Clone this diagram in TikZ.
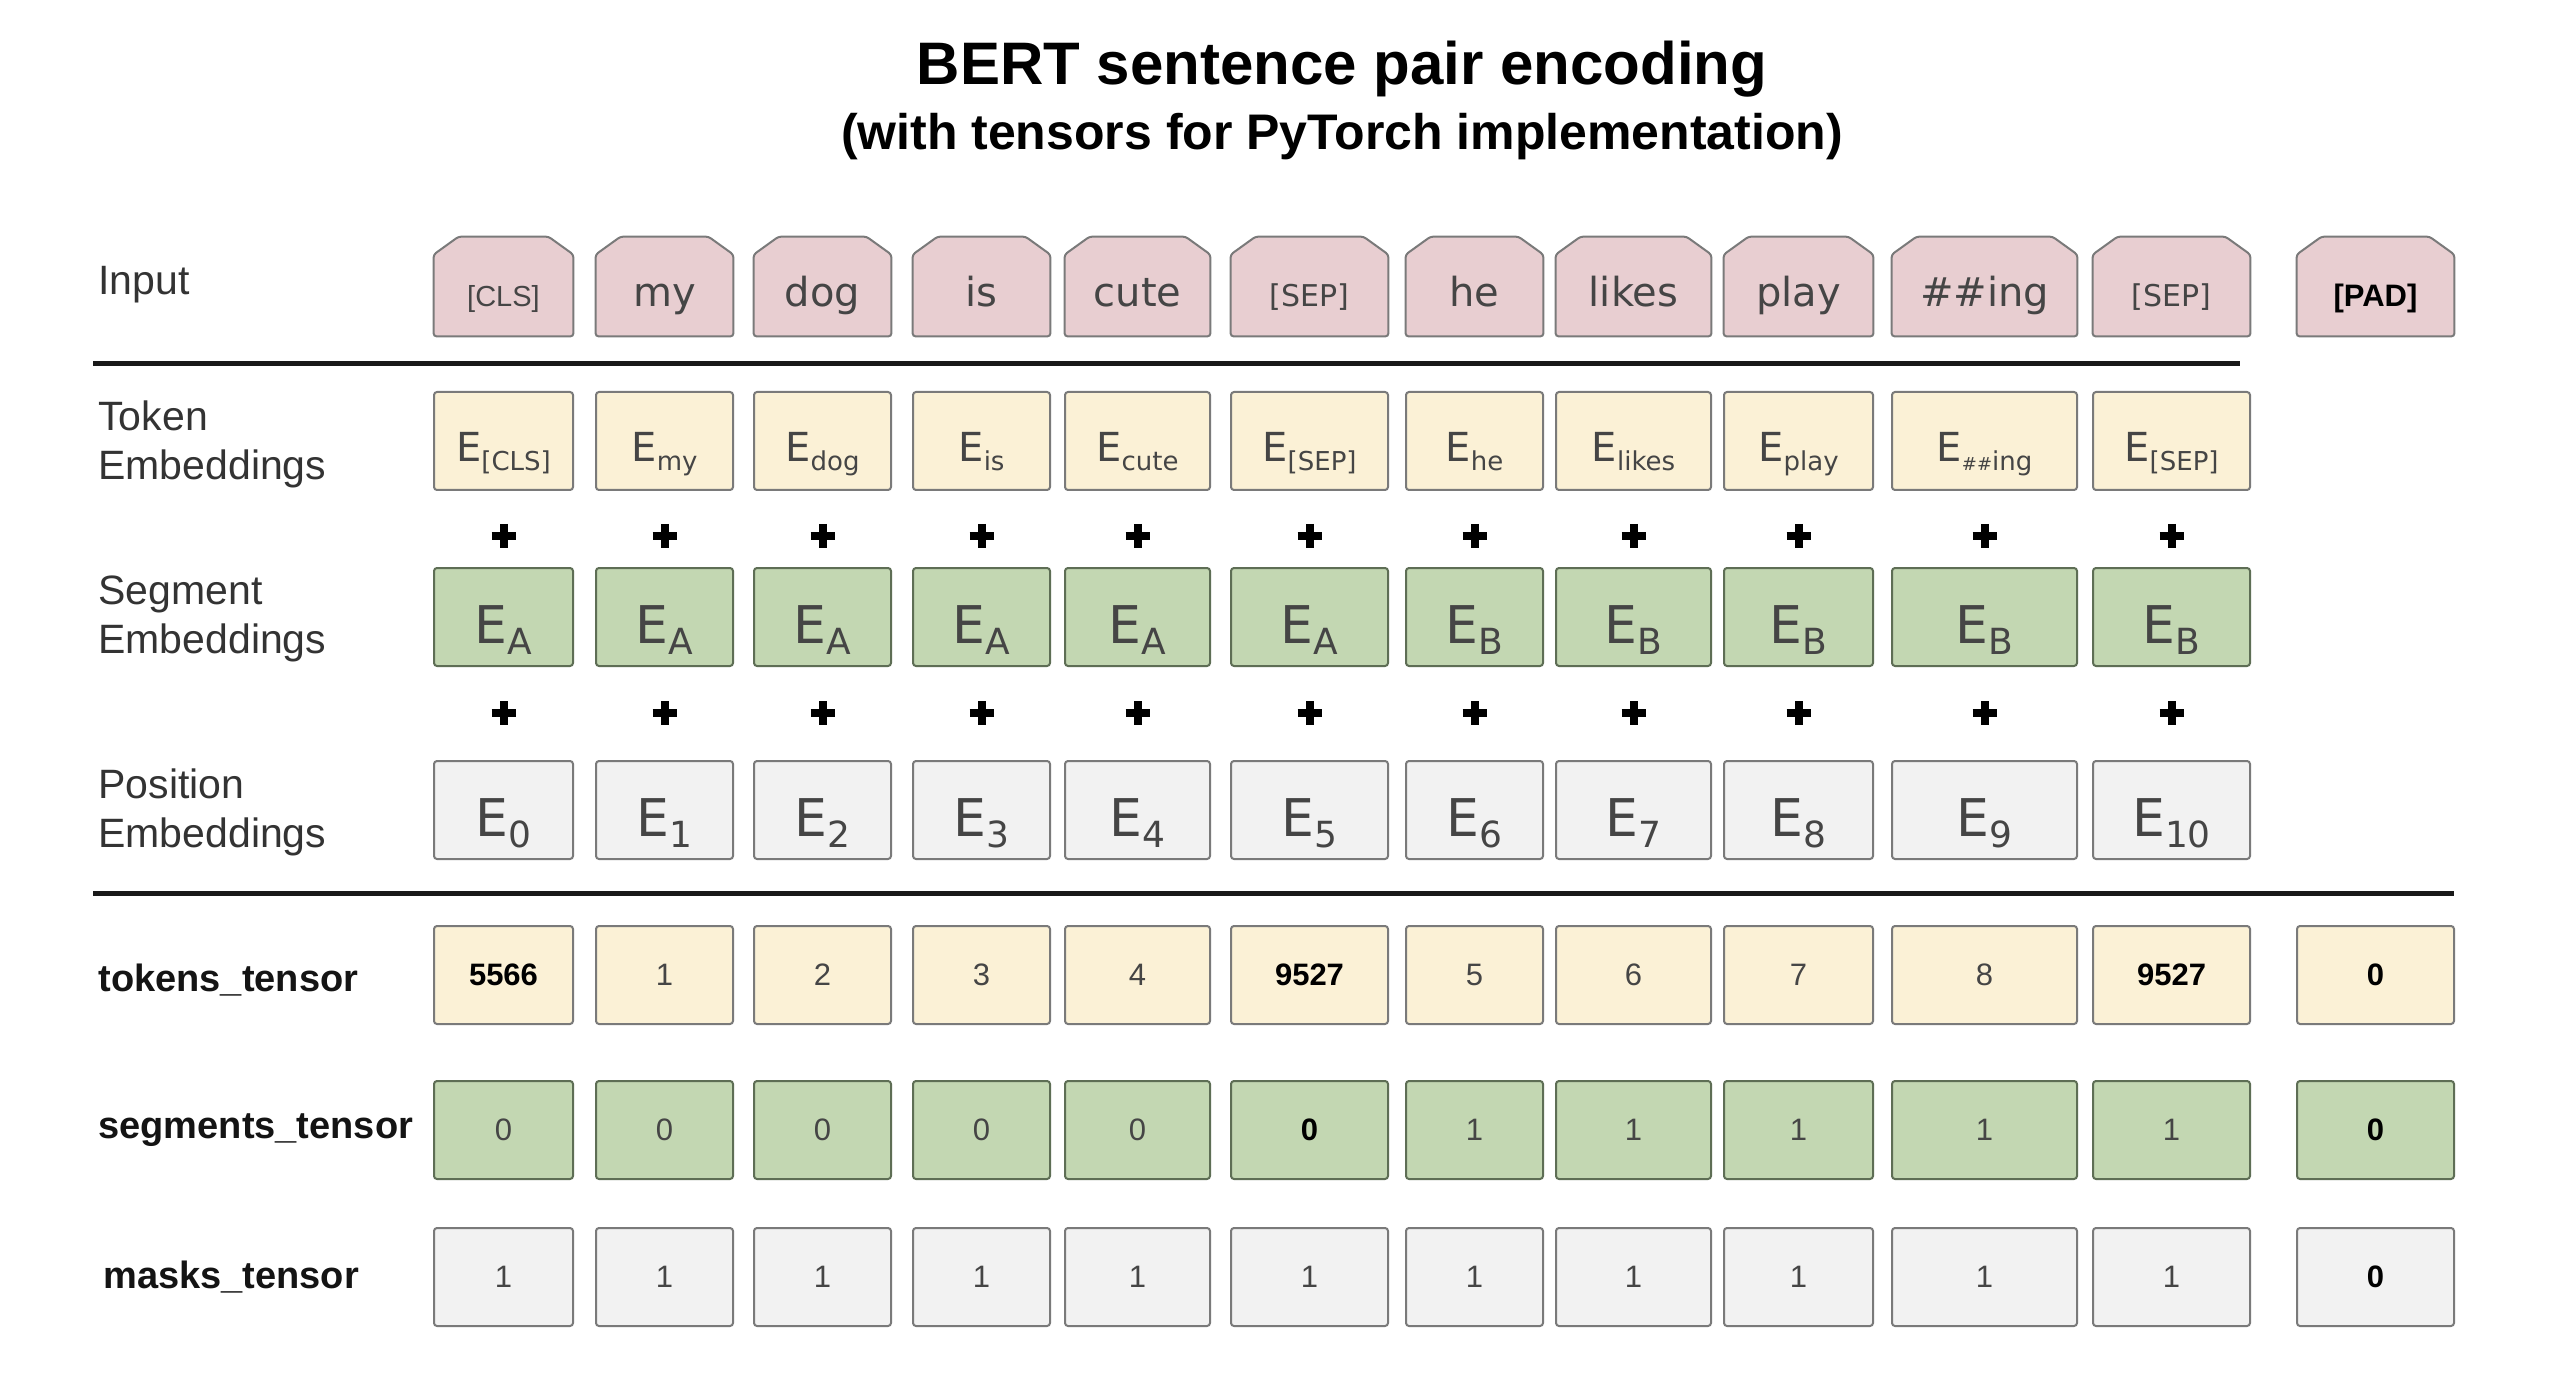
\documentclass[tikz,border=0pt]{standalone}
\usepackage{fontspec}
\setmainfont{Liberation Sans}
\newfontfamily\dvs{DejaVu Sans}
\usetikzlibrary{backgrounds}
\definecolor{pinkf}{HTML}{E8CED1}
\definecolor{yelf}{HTML}{FBF1D6}
\definecolor{grnf}{HTML}{C3D7B2}
\definecolor{gryf}{HTML}{F2F2F2}
\definecolor{bord}{HTML}{7A7A7A}
\definecolor{gbord}{HTML}{5E6E55}
\definecolor{txt}{HTML}{454545}
\definecolor{labc}{HTML}{333333}
\newcommand{\mkcell}[6]{%
  \pgfmathsetmacro\cellx{(#3+#4)/2}%
  \pgfmathsetmacro\cellw{(#4-#3)*0.5}%
  \node[#1, minimum width=\cellw pt] (#2) at (\cellx,#5) {#6};}
\newcommand{\Esub}[3]{{\dvs\fontsize{#1}{#1}\selectfont E{\fontsize{#2}{#2}\selectfont\raisebox{-0.32em}{#3}}}}
\tikzset{
  box/.style={rectangle, rounded corners=1.5pt, line width=1pt, draw=bord, inner sep=0pt, text=txt, minimum height=49pt},
  inbox/.style={rectangle, inner sep=0pt, text=txt, minimum height=49.5pt, text height=24pt, text depth=4pt, font=\dvs\fontsize{20}{24}\selectfont},
  inshape/.style={fill=pinkf, draw=bord, line width=1pt, rounded corners=1.5pt},
  tokbox/.style={box, fill=yelf, text height=25pt, text depth=4pt},
  segbox/.style={box, fill=grnf, draw=gbord, text height=30pt, text depth=4pt},
  posbox/.style={box, fill=gryf, text height=30pt, text depth=4pt},
  ttbox/.style={box, fill=yelf, font=\fontsize{15.5}{18}\selectfont},
  stbox/.style={box, fill=grnf, draw=gbord, font=\fontsize{15.5}{18}\selectfont},
  mtbox/.style={box, fill=gryf, font=\fontsize{15.5}{18}\selectfont},
  rowlab/.style={anchor=west, align=left, text=labc, inner sep=0pt, font=\fontsize{20.5}{24.5}\selectfont},
  tenlab/.style={anchor=west, text=black!92, inner sep=0pt, font=\bfseries\fontsize{19}{22}\selectfont},
  seprule/.style={line width=2.5pt, black!90},
  plusarm/.style={line width=4pt, black}
}
\begin{document}
\begin{tikzpicture}[x=0.5pt, y=-0.5pt]
\useasboundingbox (0,0) rectangle (2560,1374);
\begin{scope}[on background layer]
\fill[white] (0,0) rectangle (2560,1374);
\end{scope}

% titles
\node[font=\bfseries\fontsize{30}{36}\selectfont] (title) at (1342,69) {BERT sentence pair encoding};
\node[font=\bfseries\fontsize{25}{30}\selectfont] (subtitle) at (1342,137) {(with tensors for PyTorch implementation)};

% row labels
\node[rowlab] (lin) at (98,285) {Input};
\node[rowlab] (ltok) at (98,444) {Token\\Embeddings};
\node[rowlab] (lseg) at (98,619) {Segment\\Embeddings};
\node[rowlab] (lpos) at (98,812) {Position\\Embeddings};
\node[tenlab] (ltt) at (98,980) {tokens\_tensor};
\node[tenlab] (lst) at (98,1130) {segments\_tensor};
\node[tenlab] (lmt) at (103,1277) {masks\_tensor};

% input tokens
\foreach \i/\l/\r/\t in {0/434/573/{\fontspec{Liberation Sans}\fontsize{14.5}{16}\selectfont [CLS]},1/596/733/my,2/754/891/dog,3/913/1050/is,4/1065/1210/cute,5/1231/1388/{\fontsize{15}{16}\selectfont [SEP]},6/1406/1543/he,7/1556/1711/likes,8/1724/1873/play,9/1892/2077/\#\#ing,10/2093/2250/{\fontsize{15}{16}\selectfont [SEP]},11/2297/2454/{\fontspec{Liberation Sans}\bfseries\fontsize{15.5}{16}\selectfont\color{black} [PAD]}}{
  \mkcell{inbox}{in\i}{\l}{\r}{286.5}{\t}
}
\begin{scope}[on background layer]
\foreach \i in {0,...,11}{
  \draw[inshape] (in\i.south west) -- ([yshift=-9pt]in\i.north west) -- ([xshift=12.5pt]in\i.north west) -- ([xshift=-12.5pt]in\i.north east) -- ([yshift=-9pt]in\i.north east) -- (in\i.south east) -- cycle;
}
\end{scope}

% separator 1
\coordinate (s1a) at (93,364);
\coordinate (s1b) at (2240,364);
\draw[seprule] (s1a) -- (s1b);

% token embeddings
\foreach \i/\l/\r/\t in {0/434/573/[CLS],1/596/733/my,2/754/891/dog,3/913/1050/is,4/1065/1210/cute,5/1231/1388/[SEP],6/1406/1543/he,7/1556/1711/likes,8/1724/1873/play,9/1892/2077/{{\fontsize{9}{9}\selectfont\#\#}ing},10/2093/2250/[SEP]}{
  \mkcell{tokbox}{te\i}{\l}{\r}{441}{\Esub{20}{13}{\t}}
}
% segment embeddings
\foreach \i/\l/\r/\t in {0/434/573/A,1/596/733/A,2/754/891/A,3/913/1050/A,4/1065/1210/A,5/1231/1388/A,6/1406/1543/B,7/1556/1711/B,8/1724/1873/B,9/1892/2077/B,10/2093/2250/B}{
  \mkcell{segbox}{se\i}{\l}{\r}{617}{\Esub{26}{18}{\t}}
}
% position embeddings
\foreach \i/\l/\r in {0/434/573,1/596/733,2/754/891,3/913/1050,4/1065/1210,5/1231/1388,6/1406/1543,7/1556/1711,8/1724/1873,9/1892/2077,10/2093/2250}{
  \mkcell{posbox}{pe\i}{\l}{\r}{810}{\Esub{26}{18}{\i}}
}
% plus signs
\foreach \l/\r in {434/573,596/733,754/891,913/1050,1065/1210,1231/1388,1406/1543,1556/1711,1724/1873,1892/2077,2093/2250}{
  \pgfmathsetmacro\plx{(\l+\r)/2}
  \foreach \yy in {536,713}{
    \draw[plusarm] (\plx-12,\yy) -- (\plx+12,\yy);
    \draw[plusarm] (\plx,\yy-12) -- (\plx,\yy+12);
  }
}

% separator 2
\coordinate (s2a) at (93,893);
\coordinate (s2b) at (2454,893);
\draw[seprule] (s2a) -- (s2b);

% tensors
\foreach \i/\l/\r/\t in {0/434/573/{\textbf{\color{black}5566}},1/596/733/1,2/754/891/2,3/913/1050/3,4/1065/1210/4,5/1231/1388/{\textbf{\color{black}9527}},6/1406/1543/5,7/1556/1711/6,8/1724/1873/7,9/1892/2077/8,10/2093/2250/{\textbf{\color{black}9527}},11/2297/2454/{\textbf{\color{black}0}}}{
  \mkcell{ttbox}{tt\i}{\l}{\r}{975}{\t}
}
\foreach \i/\l/\r/\t in {0/434/573/0,1/596/733/0,2/754/891/0,3/913/1050/0,4/1065/1210/0,5/1231/1388/{\textbf{\color{black}0}},6/1406/1543/1,7/1556/1711/1,8/1724/1873/1,9/1892/2077/1,10/2093/2250/1,11/2297/2454/{\textbf{\color{black}0}}}{
  \mkcell{stbox}{st\i}{\l}{\r}{1130}{\t}
}
\foreach \i/\l/\r/\t in {0/434/573/1,1/596/733/1,2/754/891/1,3/913/1050/1,4/1065/1210/1,5/1231/1388/1,6/1406/1543/1,7/1556/1711/1,8/1724/1873/1,9/1892/2077/1,10/2093/2250/1,11/2297/2454/{\textbf{\color{black}0}}}{
  \mkcell{mtbox}{mt\i}{\l}{\r}{1277}{\t}
}
\end{tikzpicture}
\end{document}
